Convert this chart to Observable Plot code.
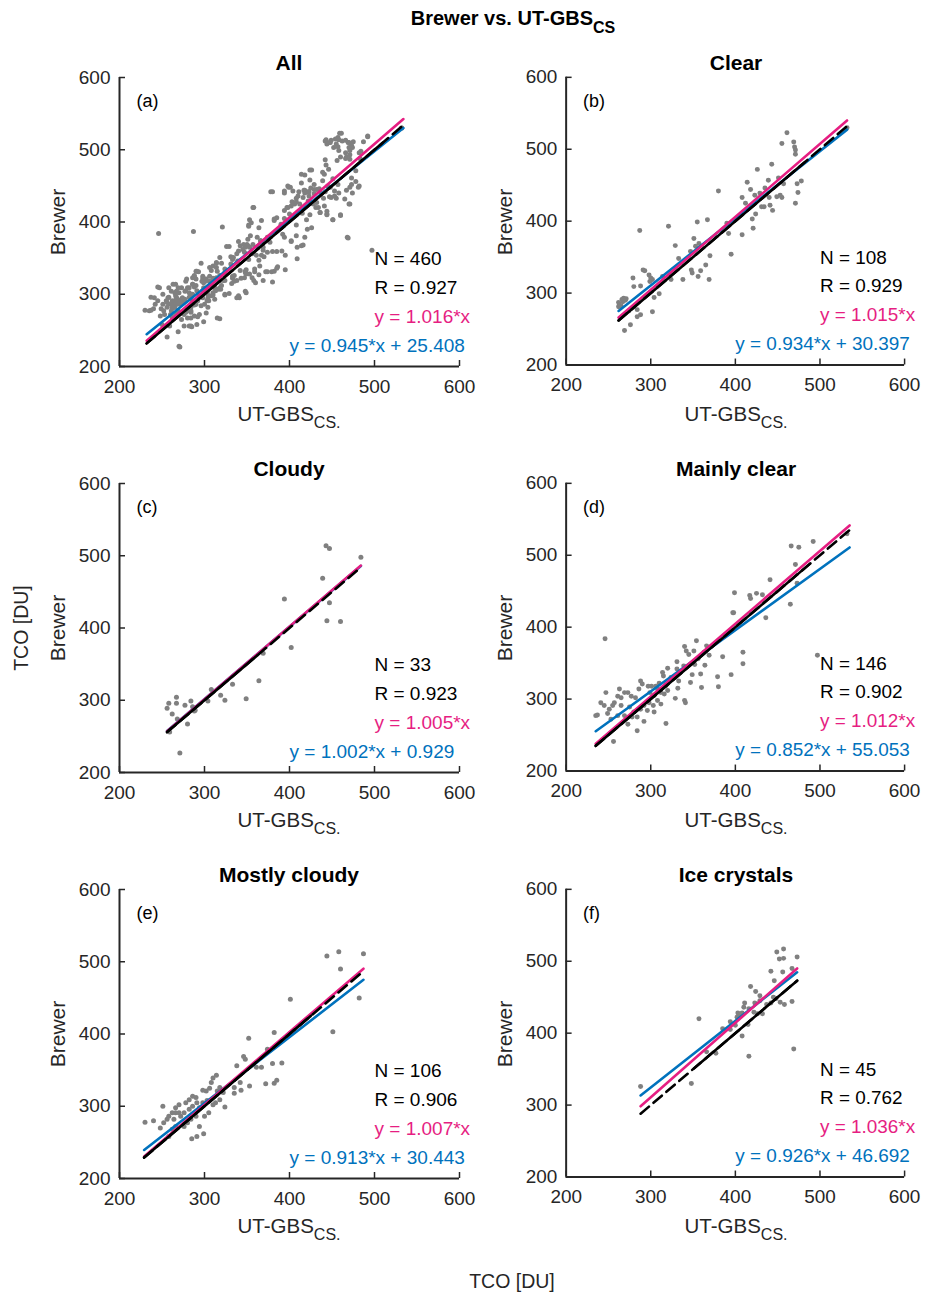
<!DOCTYPE html>
<html><head><meta charset="utf-8">
<script src="https://cdn.jsdelivr.net/npm/d3@7"></script>
<script src="https://cdn.jsdelivr.net/npm/@observablehq/plot@0.6"></script>
<style>
body{margin:0;background:#fff;}
#fig{position:relative;width:925px;height:1294px;font-family:"Liberation Sans",Arial,Helvetica,sans-serif;color:#262626;overflow:hidden;background:#fff}
.lab{position:absolute;transform:translate(-50%,-50%);white-space:nowrap;line-height:1}
.rot{transform:translate(-50%,-50%) rotate(-90deg)}
.panel{position:absolute}
.sub{position:relative;top:7px;font-size:16px}
</style></head><body><div id="fig"></div>
<script>
// ---------- DATA ----------
const panelTitles = ["All", "Clear", "Cloudy", "Mainly clear", "Mostly cloudy", "Ice crystals"];
const panelLetters = ["(a)", "(b)", "(c)", "(d)", "(e)", "(f)"];
const panelN = [460, 108, 33, 146, 106, 45];
const panelR = ["0.927", "0.929", "0.923", "0.902", "0.906", "0.762"];
const propSlope = [1.016, 1.015, 1.005, 1.012, 1.007, 1.036];
const fitSlope = [0.945, 0.934, 1.002, 0.852, 0.913, 0.926];
const fitIntercept = [25.408, 30.397, 0.929, 55.053, 30.443, 46.692];
const lineRange = [[232, 534], [262, 532], [256, 484], [235, 535], [229, 487], [288, 473]];
const identitySolid = [[232, 510], [262, 482], [256, 362], [235, 488], [229, 425], [351, 473]];
const axisTicks = [200, 300, 400, 500, 600];

const clearPts = [
[461,523],[455,508],[469,510],[470,503],[471,499],[471,493],[532,530],
[426,472],[443,479],[414,454],[439,457],[451,460],[457,452],[478,456],[473,452],[474,440],[471,425],
[380,442],[408,433],[412,425],[418,444],[423,436],[429,439],[431,420],[434,420],[440,433],[441,422],[444,415],[449,434],[453,436],[455,433],[435,446],
[424,410],[420,403],[421,390],[408,381],[392,383],[395,354],[390,397],
[355,399],[367,402],[321,393],[287,387],
[329,366],[351,376],[353,365],[357,369],[333,348],[347,358],[348,332],[349,328],[356,323],[359,331],[365,339],[370,352],[369,319],[338,319],[324,319],
[291,332],[293,331],[298,325],[300,321],[299,316],[302,319],[279,321],[280,309],[288,310],[304,294],[310,299],[314,323],
[262,287],[263,284],[266,291],[268,293],[270,290],[271,292],[265,282],[274,275],[284,277],[288,270],[284,267],[302,274],[276,256],[269,248],[262,281],[267,288]
];
const cloudyPts = [
[443,514],[447,510],[484,498],[439,469],[394,440],[447,435],[444,410],[460,409],[402,373],[369,365],[364,327],
[349,302],[333,322],[319,307],[324,300],[308,315],[304,299],[288,285],[284,299],[277,293],[267,304],[267,296],
[258,296],[256,289],[262,281],[268,274],[280,267],[259,256],[271,227],[286,291],[289,286]
];
const mainlyClearPts = [
[532,530],[492,519],[466,513],[475,511],[471,487],[441,466],[473,461],[465,432],[436,413],
[399,448],[397,420],[398,420],[417,444],[418,440],[425,447],[432,445],[409,365],[409,349],[497,361],
[354,381],[340,373],[342,367],[345,362],[351,367],[366,374],[369,361],[363,365],[356,356],[352,348],[364,347],[385,359],[395,334],[379,331],[380,317],[360,316],[359,335],[349,334],[347,323],[331,352],[331,342],[339,346],[320,343],[314,337],[315,332],[324,330],[333,325],[332,315],[329,301],[341,295],[340,298],[318,266],
[246,384],
[288,325],[290,321],[286,314],[297,318],[301,318],[306,318],[310,322],[308,314],[299,309],[304,305],[312,309],[316,307],[320,312],[308,298],[303,291],[304,282],[296,284],[292,291],[288,286],[282,302],[277,304],[273,309],[269,309],[265,302],[261,304],[255,291],[257,295],[265,291],[251,286],[245,291],[241,295],[237,278],[235,277],[249,280],[253,272],[261,277],[269,277],[278,275],[284,275],[292,269],[284,256],[256,241],[273,265],[247,309],[263,314],[275,289],[280,282],[298,295],[312,293],[318,319]
];
const mostlyCloudyPts = [
[444,508],[458,514],[487,511],[460,490],[482,450],[451,403],[401,448],
[352,394],[382,402],[346,369],[348,365],[338,356],[361,354],[367,354],[380,359],[391,360],[374,379],[372,331],[382,332],[385,336],[353,328],[342,333],[343,322],[335,326],[335,318],[324,299],[318,326],[322,319],[314,343],[310,339],[308,333],[306,325],[302,321],[298,322],[315,321],[318,309],[313,305],[303,308],[305,291],[310,302],
[286,314],[290,312],[282,309],[278,305],[270,302],[266,298],[262,291],[258,286],[251,300],[252,277],[256,282],[264,282],[272,286],[276,291],[282,296],[286,300],[291,305],[294,298],[290,286],[284,282],[280,277],[276,272],[266,272],[262,268],[258,258],[248,270],[240,280],[230,278],[285,255],[291,258],[299,262],[294,272],[300,286],[298,305],[270,291],[266,291]
];
const iceCrystalsPts = [
[457,517],[449,513],[452,503],[457,504],[473,506],[456,485],[467,490],[442,486],[446,473],[418,465],[424,458],[429,452],[423,442],[411,442],[410,436],[403,428],[408,428],[406,425],[416,434],[429,445],[432,427],[442,442],[448,448],[453,443],[458,440],[467,444],[445,450],[402,422],[400,411],[415,412],[408,396],[385,406],[394,405],[377,372],[366,374],[357,420],[416,368],[348,330],[288,326],[469,378],[437,440],[422,429],[426,427],[394,416]
];
// points of the full set not belonging to the five sky classes above
const otherPts = [
[459,523],[442,512],[448,510],[454,515],[462,512],[470,510],[474,503],[466,496],[458,499],[466,488],[482,496],[492,518],[483,488],[478,471],[481,448],[471,448],[470,425],[460,410],[451,403],[444,411],[436,413],[428,425],[422,442],[424,472],[414,466],[404,443],[394,443],[398,450],[378,442],[358,420],[353,403],[352,396],[364,392],[382,404],[390,392],[394,379],[402,374],[414,367],[418,379],[426,392],[468,379],[386,338],[374,331],[358,319],[348,304],[338,295],[315,267],[270,228],[282,256],[245,310],[237,296],
[258,309],[266,314],[278,318],[290,332],[296,343],[306,337],[314,344],[324,335],[334,351],[340,360],[350,369],[362,379],[368,369],[374,358],[326,366],[318,351],[286,323],[274,295],[268,286],[260,272],[250,258],[242,286]
];
const panelPoints = [
  [...clearPts, ...cloudyPts, ...mainlyClearPts, ...mostlyCloudyPts, ...iceCrystalsPts, ...otherPts],
  clearPts, cloudyPts, mainlyClearPts, mostlyCloudyPts, iceCrystalsPts
];

// ---------- STYLE / LAYOUT ----------
const PINK = "#E61E82", BLUE = "#0072BD", AX = "#262626", DOT = "#808080";
const FONT = '"Liberation Sans", Arial, Helvetica, sans-serif';
const W = 440, H = 386, ML = 79, MR = 21, MT = 37, MB = 60;
const PW = W - ML - MR, PH = H - MT - MB;
const colLeft = [119, 566], rowTop = [77, 483, 889];

const fig = document.getElementById("fig");
function addLabel(html, x, y, css = "", rot = false) {
  const d = document.createElement("div");
  d.className = "lab" + (rot ? " rot" : "");
  d.style.left = x + "px"; d.style.top = y + "px";
  d.style.cssText += css;
  d.innerHTML = html;
  fig.appendChild(d);
}

function makePanel(i) {
  const pts = panelPoints[i].map(([x, y]) => ({x, y}));
  const fit = lineRange[i].map(x => ({x, y: fitSlope[i] * x + fitIntercept[i]}));
  const prop = lineRange[i].map(x => ({x, y: propSlope[i] * x}));
  const idDash = lineRange[i].map(x => ({x, y: x}));
  const idSolid = identitySolid[i].map(x => ({x, y: x}));
  const statText = (t, color, dx, dy) => Plot.text([t], {text: d => d, frameAnchor: "bottom-left", dx, dy, textAnchor: "start", lineAnchor: "middle", fontSize: 19, fill: color});
  return Plot.plot({
    width: W, height: H, marginLeft: ML, marginRight: MR, marginTop: MT, marginBottom: MB,
    style: {fontFamily: FONT, fontSize: "19px", color: AX, background: "transparent", overflow: "visible"},
    x: {domain: [200, 600]},
    y: {domain: [200, 600]},
    marks: [
      Plot.dot(pts, {x: "x", y: "y", r: 2.5, fill: DOT, stroke: "none"}),
      Plot.line(fit, {x: "x", y: "y", stroke: BLUE, strokeWidth: 2.6}),
      Plot.line(prop, {x: "x", y: "y", stroke: PINK, strokeWidth: 2.6}),
      Plot.line(idSolid, {x: "x", y: "y", stroke: "#000", strokeWidth: 2.6}),
      Plot.line(idDash, {x: "x", y: "y", stroke: "#000", strokeWidth: 2.6, strokeDasharray: "11,6"}),
      Plot.ruleX([200], {stroke: AX, strokeWidth: 2}),
      Plot.ruleY([200], {stroke: AX, strokeWidth: 2}),
      Plot.tickY(axisTicks, {y: d => d, stroke: AX, strokeWidth: 1.5, insetRight: PW - 6}),
      Plot.tickX(axisTicks, {x: d => d, stroke: AX, strokeWidth: 1.5, insetTop: PH - 6}),
      Plot.axisX({ticks: axisTicks, tickSize: 0, tickPadding: 13, label: null, fill: AX, fontSize: 19}),
      Plot.axisY({ticks: axisTicks, tickSize: 0, tickPadding: 9, label: null, fill: AX, fontSize: 19}),
      Plot.text([panelLetters[i]], {text: d => d, frameAnchor: "top-left", dx: 17, dy: 24, textAnchor: "start", lineAnchor: "middle", fontSize: 18, fill: "#000"}),
      statText("N = " + panelN[i], "#000", 255, -108),
      statText("R = " + panelR[i], "#000", 255, -79),
      statText("y = " + propSlope[i].toFixed(3) + "*x", PINK, 255, -50),
      statText("y = " + fitSlope[i].toFixed(3) + "*x + " + fitIntercept[i].toFixed(3), BLUE, 170, -21)
    ]
  });
}

for (let i = 0; i < 6; i++) {
  const col = i % 2, row = Math.floor(i / 2);
  const left = colLeft[col], top = rowTop[row];
  const holder = document.createElement("div");
  holder.className = "panel";
  holder.style.left = (left - ML) + "px";
  holder.style.top = (top - MT) + "px";
  holder.appendChild(makePanel(i));
  fig.appendChild(holder);
  addLabel(panelTitles[i], left + PW / 2, top - 15, "font-weight:bold;font-size:21px;color:#000;");
  addLabel('UT-GBS<span class="sub">CS.</span>', left + PW / 2, top + PH + 48, "font-size:20.5px;");
  addLabel("Brewer", left - 62, top + PH / 2, "font-size:21px;", true);
}
addLabel('Brewer vs. UT-GBS<span class="sub" style="top:8px;font-size:16px">CS</span>', 513, 18, "font-weight:bold;font-size:20px;color:#000;");
addLabel("TCO [DU]", 22, 628, "font-size:19.5px;", true);
addLabel("TCO [DU]", 512, 1282, "font-size:19.5px;");
</script>
</body></html>
